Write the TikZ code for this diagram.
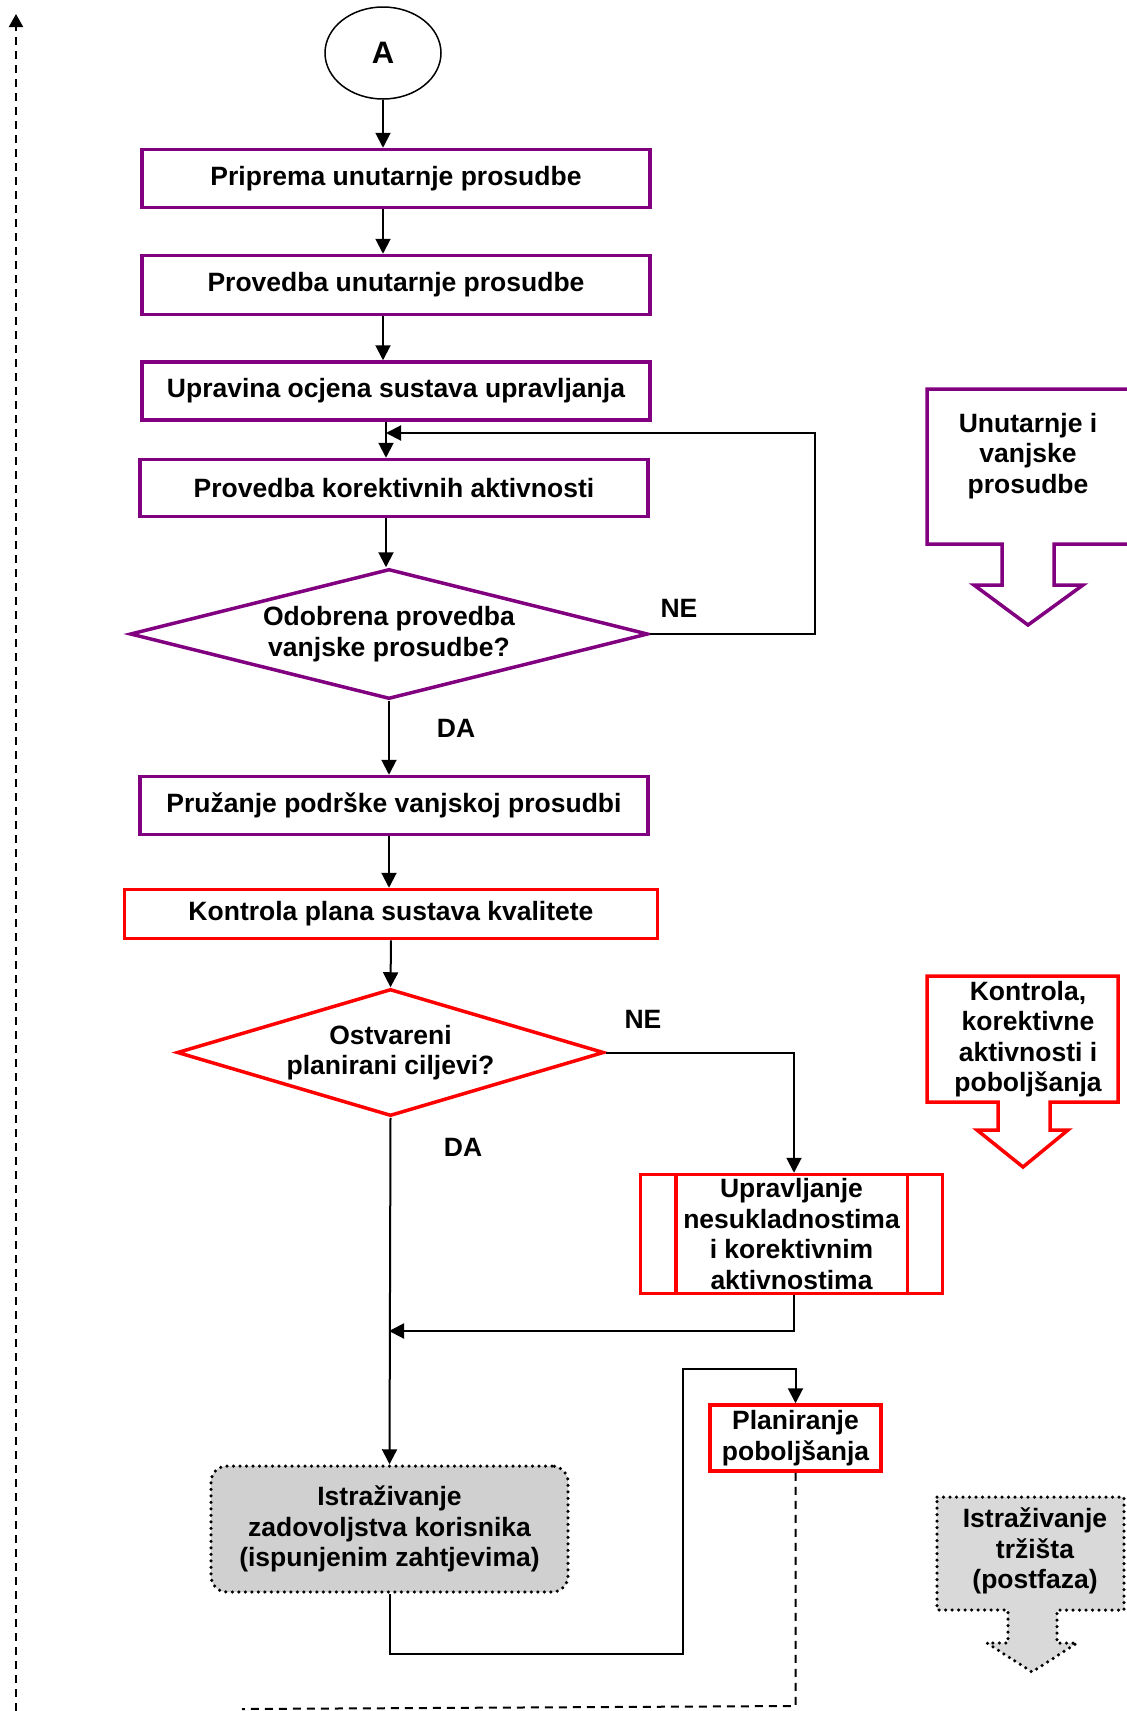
\documentclass[tikz,border=0pt]{standalone}
\usepackage{fontspec}
\setmainfont{Liberation Sans}
\usetikzlibrary{shapes.geometric,arrows.meta,calc}
\definecolor{vio}{RGB}{128,0,128}
\definecolor{lgray}{RGB}{217,217,217}
\definecolor{hgray}{RGB}{208,208,208}
\begin{document}
\begin{tikzpicture}[x=1pt,y=-1pt,
  every node/.style={font=\fontsize{26.5}{30.5}\selectfont\bfseries, align=center, inner sep=0pt},
  pbox/.style={rectangle, draw=vio, line width=3.5pt},
  rbox/.style={rectangle, draw=red, line width=3.5pt},
  pdec/.style={diamond, draw=vio, line width=3.5pt},
  rdec/.style={diamond, draw=red, line width=3.5pt},
  arr/.style={draw, line width=2pt, -{Triangle[length=15pt,width=15pt]}},
  dashline/.style={line width=2pt, dash pattern=on 8pt off 6pt},
  dotbord/.style={line width=3.5pt, dash pattern=on 0pt off 6.5pt, line cap=round}
]
\useasboundingbox (0,0) rectangle (1127,1711);

% main flow nodes
\node[ellipse, draw, line width=1.5pt, minimum width=116, minimum height=92, font=\fontsize{31}{34}\selectfont\bfseries] (A) at (383,53) {A};
\node[pbox, minimum width=508, minimum height=58] (b1) at (396,178.5) {Priprema unutarnje prosudbe};
\node[pbox, minimum width=508, minimum height=59] (b2) at (396,285) {Provedba unutarnje prosudbe};
\node[pbox, minimum width=508, minimum height=58] (b3) at (396,391) {Upravina ocjena sustava upravljanja};
\node[pbox, minimum width=508, minimum height=57] (b4) at (394,488) {Provedba korektivnih aktivnosti};
\node[pdec, aspect=3.98, minimum width=518, minimum height=130] (d1) at (389,634) {Odobrena provedba\\vanjske prosudbe?};
\node[pbox, minimum width=508, minimum height=58] (b5) at (394,805.5) {Pružanje podrške vanjskoj prosudbi};
\node[rbox, minimum width=533, minimum height=49] (b6) at (391,914) {Kontrola plana sustava kvalitete};
\node[rdec, aspect=3.36, minimum width=427, minimum height=127] (d2) at (390.5,1052.5) {Ostvareni\\planirani ciljevi?};
\node[rbox, minimum width=302, minimum height=119] (b7) at (791.5,1234) {Upravljanje\\nesukladnostima\\i korektivnim\\aktivnostima};
\draw[red, line width=3.5pt] ([xshift=37]b7.north west) -- ([xshift=37]b7.south west);
\draw[red, line width=3.5pt] ([xshift=-37]b7.north east) -- ([xshift=-37]b7.south east);
\node[rectangle, rounded corners=16pt, draw, dotbord, fill=hgray, minimum width=357, minimum height=126] (b8) at (389.5,1529) {Istraživanje\\zadovoljstva korisnika\\(ispunjenim zahtjevima)};
\node[rbox, minimum width=171, minimum height=66] (b9) at (795.5,1438) {Planiranje\\poboljšanja};

% labels
\node (ne1) at (679,608) {NE};
\node (da1) at (456,728) {DA};
\node (ne2) at (643,1019) {NE};
\node (da2) at (463,1147) {DA};

% helper coordinates
\coordinate (c4) at (386,0);
\coordinate (lp) at (815,433);
\coordinate (c7) at (794,0);
\coordinate (j1) at (389,1331);
\coordinate (lo1) at (683,1654);
\coordinate (lo2) at (683,1369);
\coordinate (dc) at (795.5,1706);
\coordinate (de) at (242,1709);
\coordinate (ls) at (16,1711);
\coordinate (lt) at (16,14);

% connectors
\draw[arr] (A.south) -- (A.south |- b1.north);
\draw[arr] (b1.south -| A.south) -- (b2.north -| A.south);
\draw[arr] (b2.south -| A.south) -- (b3.north -| A.south);
\draw[arr] (b3.south -| c4) -- (b4.north -| c4);
\draw[arr] (d1.east) -- (d1.east -| lp) -- (lp) -- (c4 |- lp);
\draw[arr] (b4.south -| c4) -- (d1.north -| c4);
\draw[arr] (d1.south) -- (d1.south |- b5.north);
\draw[arr] (b5.south -| d1.south) -- (b6.north -| d1.south);
\draw[arr] (b6.south) -- (d2.north);
\draw[arr] (d2.east) -- (d2.east -| c7) -- (b7.north -| c7);
\draw[arr] (b7.south -| c7) -- (c7 |- j1) -- (j1);
\draw[arr] (d2.south) -- (b8.north);
\draw[arr] (b8.south) -- (b8.south |- lo1) -- (lo1) -- (lo2) -- (lo2 -| b9.north) -- (b9.north);
\draw[dashline] (b9.south) -- (dc) -- (de);
\draw[dashline, -{Triangle[length=13pt,width=14pt]}] (ls) -- (lt);

% side callouts
\draw[vio, line width=3.5pt] (927,389) -- (1136,389) -- (1136,544) -- (1054,544) -- (1054,585) -- (1083,585) -- (1028,625) -- (974,585) -- (1002,585) -- (1002,544) -- (927,544) -- cycle;
\node (t1) at (1028,456) {Unutarnje i\\vanjske\\prosudbe};

\draw[red, line width=3.5pt] (927,976) -- (1118,976) -- (1118,1102) -- (1050,1102) -- (1050,1130) -- (1068,1130) -- (1023,1167) -- (977,1130) -- (998,1130) -- (998,1102) -- (927,1102) -- cycle;
\node (t2) at (1028,1039) {Kontrola,\\korektivne\\aktivnosti i\\poboljšanja};

\draw[dotbord, fill=lgray] (937,1497) -- (1124,1497) -- (1124,1610) -- (1057,1610) -- (1057,1643) -- (1077,1643) -- (1032,1672) -- (987,1643) -- (1008,1643) -- (1008,1610) -- (937,1610) -- cycle;
\node (t3) at (1035,1551) {Istraživanje\\tržišta\\(postfaza)};
\end{tikzpicture}
\end{document}
